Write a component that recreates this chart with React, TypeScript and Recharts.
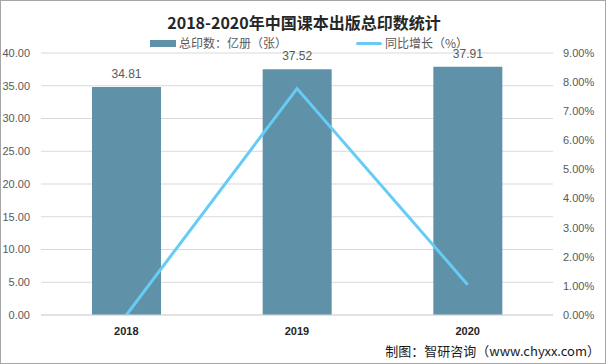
import { ComposedChart, Bar, Line, XAxis, YAxis, CartesianGrid, LabelList } from 'recharts';

const years = ['2018', '2019', '2020'];
const totalPrints = [34.81, 37.52, 37.91];
const growthRate = [0, 7.78, 1.04];
const leftTicks = [0, 5, 10, 15, 20, 25, 30, 35, 40];
const rightTicks = [0, 1, 2, 3, 4, 5, 6, 7, 8, 9];

const data = years.map((year, i) => ({
  year,
  prints: totalPrints[i],
  growth: growthRate[i],
}));

const BAR_COLOR = '#5f91a8';
const LINE_COLOR = '#66ccf5';
const TICK = { fontSize: 11, fill: '#595959', fontFamily: 'Liberation Sans, Arial, sans-serif' };
const CJK = '"Noto Sans CJK SC", sans-serif';

export default function App() {
  return (
    <div
      style={{
        position: 'absolute',
        left: 0,
        top: 0,
        width: 606,
        height: 364,
        border: '1px solid #a6a6a6',
        boxSizing: 'border-box',
        background: '#fff',
        overflow: 'hidden',
      }}
    >
      <div
        style={{
          position: 'absolute',
          top: 8,
          left: 0,
          width: 606,
          textAlign: 'center',
          fontFamily: CJK,
          fontWeight: 700,
          fontSize: 16,
          color: '#262626',
          lineHeight: '26px',
        }}
      >
        2018-2020年中国课本出版总印数统计
      </div>
      <div style={{ position: 'absolute', top: 34, left: 0, width: 606, height: 16, fontFamily: CJK, fontSize: 12, color: '#595959' }}>
        <span style={{ position: 'absolute', left: 149, top: 5, width: 26, height: 7, background: BAR_COLOR }} />
        <span style={{ position: 'absolute', left: 178, top: 1, lineHeight: '14px' }}>总印数：亿册（张）</span>
        <span style={{ position: 'absolute', left: 355, top: 7, width: 26, height: 3, borderRadius: 2, background: LINE_COLOR }} />
        <span style={{ position: 'absolute', left: 384, top: 1, lineHeight: '14px' }}>同比增长（%）</span>
      </div>
      <div
        style={{
          position: 'absolute',
          right: 5,
          top: 340,
          fontFamily: CJK,
          fontSize: 13,
          color: '#1a1a1a',
          lineHeight: '20px',
        }}
      >
        制图：智研咨询（www.chyxx.com）
      </div>
      <div style={{ position: 'absolute', left: -1, top: -1 }}>
        <ComposedChart width={606} height={364} data={data} margin={{ top: 53, right: 0, bottom: 29, left: 0 }}>
          <CartesianGrid vertical={false} stroke="#d9d9d9" yAxisId="left" />
          <XAxis
            dataKey="year"
            axisLine={{ stroke: '#d9d9d9' }}
            tickLine={false}
            tickSize={0}
            tickMargin={12}
            height={20}
            tick={{ fontSize: 11, fill: '#262626', fontWeight: 700, fontFamily: 'Liberation Sans, Arial, sans-serif' }}
          />
          <YAxis
            yAxisId="left"
            domain={[0, 40]}
            ticks={leftTicks}
            width={41}
            axisLine={false}
            tickLine={false}
            tickSize={0}
            tickMargin={11}
            tick={TICK}
            tickFormatter={(v: number) => v.toFixed(2)}
          />
          <YAxis
            yAxisId="right"
            orientation="right"
            domain={[0, 9]}
            ticks={rightTicks}
            width={53}
            axisLine={false}
            tickLine={false}
            tickSize={0}
            tickMargin={10}
            tick={TICK}
            tickFormatter={(v: number) => v.toFixed(2) + '%'}
          />
          <Bar yAxisId="left" dataKey="prints" fill={BAR_COLOR} barSize={69} isAnimationActive={false}>
            <LabelList
              dataKey="prints"
              position="top"
              offset={9}
              formatter={(v: number) => v.toFixed(2)}
              style={{ fontSize: 12, fill: '#595959', fontFamily: 'Liberation Sans, Arial, sans-serif' }}
            />
          </Bar>
          <Line
            yAxisId="right"
            type="linear"
            dataKey="growth"
            stroke={LINE_COLOR}
            strokeWidth={3}
            dot={false}
            activeDot={false}
            isAnimationActive={false}
          />
        </ComposedChart>
      </div>
    </div>
  );
}
